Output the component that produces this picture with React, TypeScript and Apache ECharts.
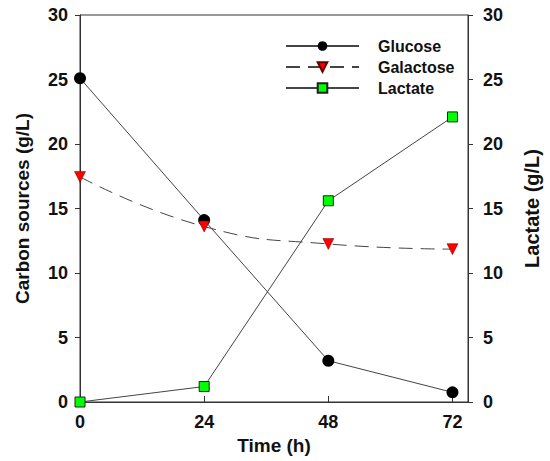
import React, { useEffect, useRef } from "react";
import * as echarts from "echarts";

const timeH = [0, 24, 48, 72];
const glucose = [25.1, 14.1, 3.2, 0.75];
const galactose = [17.45, 13.6, 12.25, 11.85];
const lactate = [0, 1.2, 15.6, 22.1];

const pairs = (ys: number[]) => timeH.map((t, i) => [t, ys[i]]);

export default function App() {
  const ref = useRef<HTMLDivElement>(null);
  useEffect(() => {
    const chart = echarts.init(ref.current!, null, { renderer: "svg" });
    const font = "Liberation Sans, Arial, sans-serif";
    const axisLine = { show: true, lineStyle: { color: "#333", width: 1 } };
    const tickFont = { fontFamily: font, fontWeight: "bold", fontSize: 18, color: "#111" };
    const titleFont = { fontFamily: font, fontWeight: "bold", fontSize: 19, color: "#111" };
    chart.setOption({
      animation: false,
      backgroundColor: "#fff",
      grid: { left: 80, right: 82, top: 15, bottom: 59, show: true, borderColor: "#333", borderWidth: 1 },
      legend: {
        left: 285,
        top: 38,
        orient: "vertical",
        padding: 0,
        itemWidth: 73,
        itemHeight: 12,
        itemGap: 5,
        textStyle: { fontFamily: font, fontWeight: "bold", fontSize: 16, color: "#111", padding: [0, 0, 0, 14] },
        data: ["Glucose", "Galactose", "Lactate"],
      },
      xAxis: {
        type: "value",
        min: 0,
        max: 75,
        interval: 24,
        name: "Time (h)",
        nameLocation: "middle",
        nameGap: 33,
        nameTextStyle: titleFont,
        axisLine,
        axisTick: { show: true, inside: true, length: 6, lineStyle: { color: "#333" } },
        axisLabel: { ...tickFont, margin: 11 },
        splitLine: { show: false },
      },
      yAxis: [
        {
          type: "value",
          min: 0,
          max: 30,
          interval: 5,
          name: "Carbon sources (g/L)",
          nameLocation: "middle",
          nameGap: 48,
          nameTextStyle: titleFont,
          axisLine,
          axisTick: { show: true, inside: false, length: 5, lineStyle: { color: "#333" } },
          axisLabel: { ...tickFont, margin: 12 },
          splitLine: { show: false },
        },
        {
          type: "value",
          min: 0,
          max: 30,
          interval: 5,
          position: "right",
          name: "Lactate (g/L)",
          nameLocation: "middle",
          nameGap: 54,
          nameRotate: 90,
          nameTextStyle: { ...titleFont, fontSize: 20 },
          axisLine,
          axisTick: { show: true, inside: false, length: 5, lineStyle: { color: "#333" } },
          axisLabel: { ...tickFont, margin: 15 },
          splitLine: { show: false },
        },
      ],
      series: [
        {
          name: "Glucose",
          type: "line",
          data: pairs(glucose),
          symbol: "circle",
          symbolSize: 12,
          itemStyle: { color: "#000" },
          lineStyle: { color: "#444", width: 1 },
        },
        {
          name: "Galactose",
          type: "line",
          data: pairs(galactose),
          smooth: 0.5,
          symbol: "triangle",
          symbolRotate: 180,
          symbolSize: 11,
          itemStyle: { color: "#f00", borderColor: "#600", borderWidth: 0.5 },
          lineStyle: { color: "#444", width: 1, type: [14, 8] },
        },
        {
          name: "Lactate",
          type: "line",
          yAxisIndex: 1,
          data: pairs(lactate),
          symbol: "rect",
          symbolSize: 10,
          itemStyle: { color: "#0f0", borderColor: "#222", borderWidth: 1 },
          lineStyle: { color: "#444", width: 1 },
        },
      ],
    });
    return () => chart.dispose();
  }, []);
  return (
    <div
      ref={ref}
      style={{ position: "absolute", left: 0, top: 0, width: 550, height: 461 }}
    />
  );
}
